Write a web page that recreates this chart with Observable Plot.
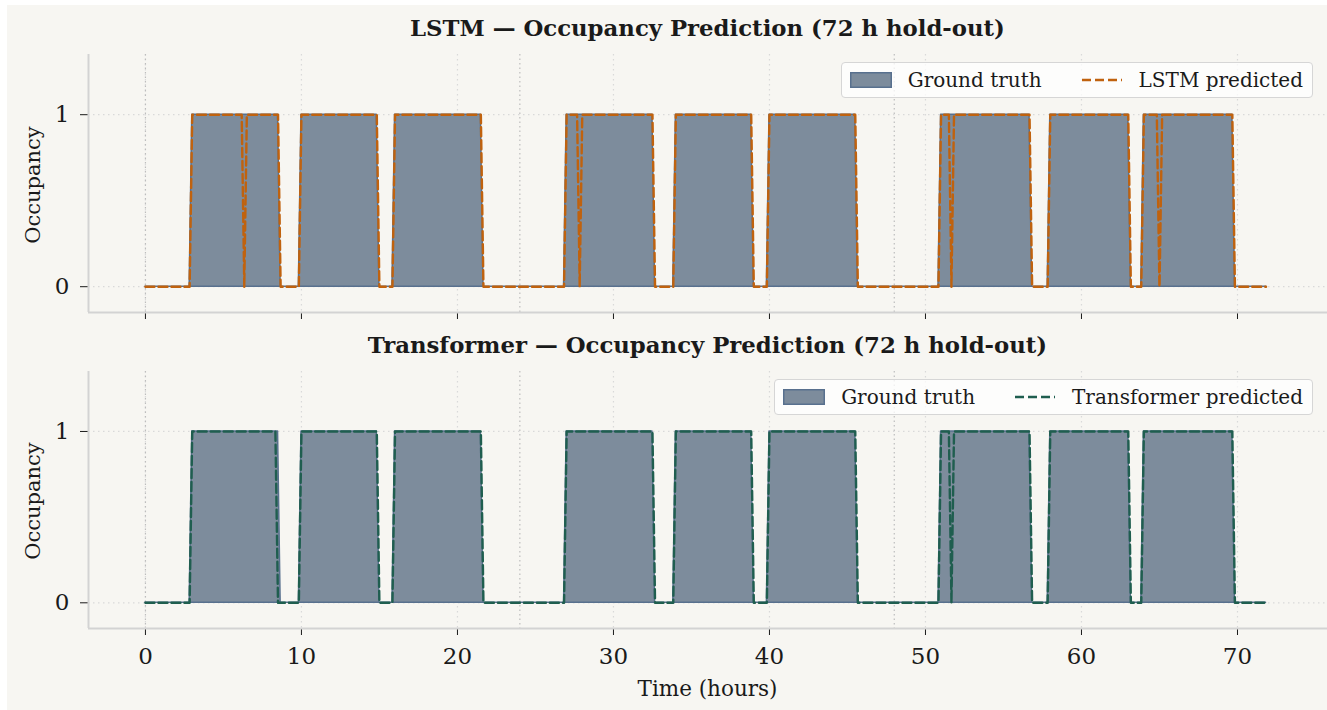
<!DOCTYPE html>
<html>
<head>
<meta charset="utf-8">
<script src="https://cdn.jsdelivr.net/npm/d3@7"></script>
<script src="https://cdn.jsdelivr.net/npm/@observablehq/plot@0.6"></script>
<style>
  html, body { margin: 0; padding: 0; background: #ffffff; }
  #fig { position: relative; width: 1327px; height: 710px; overflow: hidden; font-family: "DejaVu Serif", serif; color: #1a1a1a; }
  #bg { position: absolute; left: 7px; top: 5px; right: 0; bottom: 0; background: #f7f6f2; }
  .panel { position: absolute; left: 0; }
  .title { position: absolute; left: 88px; width: 1239px; text-align: center; font-weight: bold; font-size: 22.8px; }
  .ylab { position: absolute; left: 33px; font-size: 21px; transform: translate(-50%, -50%) rotate(-90deg); white-space: nowrap; }
  .xlab { position: absolute; left: 88px; width: 1239px; text-align: center; font-size: 21.5px; }
  .legend { position: absolute; right: 14px; height: 36px; display: flex; align-items: center; background: rgba(255,255,255,0.75); border: 1.5px solid #d6d6d6; border-radius: 4px; font-size: 20px; padding: 0 9px 0 8px; box-sizing: border-box; }
  .legend svg { display: block; }
</style>
</head>
<body>
<div id="fig">
  <div id="bg"></div>
</div>
<script>
// ---------------- data ----------------
const STEP = 1 / 6;             // 10-minute sampling (hours)
const T_START = 0;
const T_END = 71.83;
const xTicks = [0, 10, 20, 30, 40, 50, 60, 70];
const yTicks = [0, 1];
const dayBoundaries = [0, 24, 48];

// occupied intervals (hours): first and last sample equal to 1
const gtStart = [3.0, 10.0, 16.0, 27.0, 34.0, 40.0, 51.0, 58.0, 64.0];
const gtEnd   = [8.5, 14.83, 21.5, 32.5, 38.83, 45.5, 56.67, 63.0, 69.67];

const lstmStart = [3.0, 6.5, 10.0, 16.0, 27.0, 28.0, 34.0, 40.0, 51.0, 51.83, 58.0, 64.0, 65.17];
const lstmEnd   = [6.17, 8.5, 14.83, 21.5, 27.67, 32.5, 38.83, 45.5, 51.5, 56.67, 63.0, 64.83, 69.67];

const trfStart = [3.0, 10.0, 16.0, 27.0, 34.0, 40.0, 51.0, 51.83, 58.0, 64.0];
const trfEnd   = [8.33, 14.83, 21.5, 32.5, 38.83, 45.5, 51.5, 56.67, 63.0, 69.67];

// ---------------- styles ----------------
const GT_FILL = "#7d8c9c";
const GT_EDGE = "#58708e";
const LSTM_COLOR = "#c0620e";
const TRF_COLOR = "#1f5e4f";
const X_DOMAIN = [-3.65, 75.77];
const Y_DOMAIN = [-0.15, 1.35];

function series(starts, ends) {
  const pts = [{t: T_START, v: 0}];
  starts.forEach((s, i) => {
    pts.push({t: s - STEP, v: 0}, {t: s, v: 1}, {t: ends[i], v: 1}, {t: ends[i] + STEP, v: 0});
  });
  pts.push({t: T_END, v: 0});
  return pts;
}

const gt = series(gtStart, gtEnd);
const lstm = series(lstmStart, lstmEnd);
const trf = series(trfStart, trfEnd);

function panel(pred, color, showLabels, top, height, marginBottom) {
  const p = Plot.plot({
    width: 1327,
    height,
    marginLeft: 88,
    marginRight: 0,
    marginTop: 54,
    marginBottom,
    style: {background: "transparent", fontFamily: "DejaVu Serif", fontSize: "23px", color: "#1a1a1a", overflow: "visible"},
    x: {domain: X_DOMAIN, ticks: xTicks, tickSize: 7, tickPadding: 12, label: null,
        tickFormat: showLabels ? (d => String(d)) : (() => "")},
    y: {domain: Y_DOMAIN, ticks: yTicks, tickSize: 8, tickPadding: 11, label: null, tickFormat: d => String(d)},
    marks: [
      Plot.ruleX(xTicks, {stroke: "#d9d9d9", strokeWidth: 1.2, strokeDasharray: "1.5,3.5"}),
      Plot.ruleY(yTicks, {stroke: "#d9d9d9", strokeWidth: 1.2, strokeDasharray: "1.5,3.5"}),
      Plot.ruleX(dayBoundaries, {stroke: "#bdbdbd", strokeWidth: 1.2, strokeDasharray: "1.5,3"}),
      Plot.ruleY([Y_DOMAIN[0]], {stroke: "#d3d3d3", strokeWidth: 2}),
      Plot.ruleX([X_DOMAIN[0]], {stroke: "#d3d3d3", strokeWidth: 2}),
      Plot.areaY(gt, {x: "t", y: "v", fill: GT_FILL, stroke: GT_EDGE, strokeWidth: 1.5, curve: "linear"}),
      Plot.line(pred, {x: "t", y: "v", stroke: color, strokeWidth: 2.4, strokeDasharray: "9,4", curve: "linear"})
    ]
  });
  p.classList.add("panel");
  p.style.top = top + "px";
  document.getElementById("fig").appendChild(p);
}

panel(lstm, LSTM_COLOR, false, 0, 342, 30);
panel(trf, TRF_COLOR, true, 317, 393, 82);

const fig = document.getElementById("fig");
function addDiv(cls, text, css) {
  const d = document.createElement("div");
  d.className = cls;
  d.textContent = text;
  Object.assign(d.style, css);
  fig.appendChild(d);
  return d;
}
addDiv("title", "LSTM — Occupancy Prediction (72 h hold-out)", {top: "15px"});
addDiv("title", "Transformer — Occupancy Prediction (72 h hold-out)", {top: "332px"});
addDiv("ylab", "Occupancy", {top: "185px"});
addDiv("ylab", "Occupancy", {top: "501px"});
addDiv("xlab", "Time (hours)", {top: "676px"});

function legend(top, predLabel, color) {
  const d = document.createElement("div");
  d.className = "legend";
  d.style.top = top + "px";
  d.innerHTML =
    `<svg width="42" height="16"><rect x="0.75" y="0.75" width="40.5" height="14.5" fill="${GT_FILL}" stroke="${GT_EDGE}" stroke-width="1.5"/></svg>` +
    `<span style="margin-left:16px">Ground truth</span>` +
    `<svg width="40" height="6" style="margin-left:40px"><line x1="0" y1="3" x2="40" y2="3" stroke="${color}" stroke-width="2.4" stroke-dasharray="9,4"/></svg>` +
    `<span style="margin-left:17px">${predLabel}</span>`;
  fig.appendChild(d);
}
legend(62, "LSTM predicted", LSTM_COLOR);
legend(379, "Transformer predicted", TRF_COLOR);
</script>
</body>
</html>
